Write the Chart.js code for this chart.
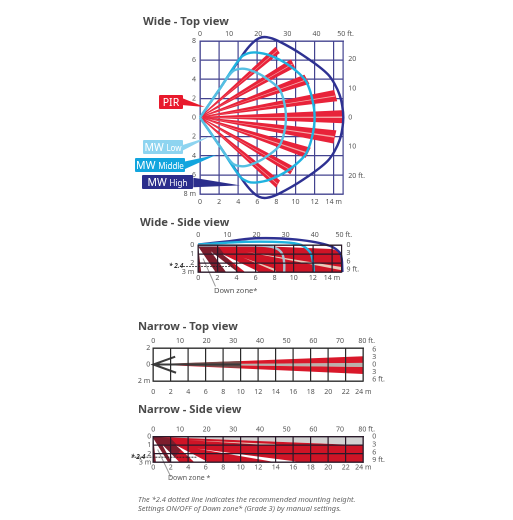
<!DOCTYPE html>
<html>
<head>
<meta charset="utf-8">
<script src="https://cdn.jsdelivr.net/npm/chart.js@4"></script>
<style>
html,body{margin:0;padding:0;background:#fff;width:513px;height:520px;overflow:hidden}
canvas{position:absolute;left:0;top:0}
.t{position:absolute;font-family:"Noto Sans",sans-serif;white-space:nowrap;color:#444;z-index:5}
.h{font-size:11.2px;font-weight:700;color:#4a4a4a}
.s{font-size:7px;color:#555}
.b{font-size:6.5px;font-weight:700;font-style:italic;color:#333}
.n{font-size:7.45px;font-style:italic;color:#666}
.l{color:#fff;font-size:10.5px;line-height:14px;height:14px;text-align:center;border-radius:1px}
.l small{font-size:8px}
</style>
</head>
<body>
<canvas id="wideTop" width="513" height="520"></canvas>
<canvas id="wideSide" width="513" height="520"></canvas>
<canvas id="narrowTop" width="513" height="520"></canvas>
<canvas id="narrowSide" width="513" height="520"></canvas>

<div class="t h" style="left:143px;top:13px">Wide - Top view</div>
<div class="t h" style="left:140px;top:214px">Wide - Side view</div>
<div class="t h" style="left:138px;top:318px">Narrow - Top view</div>
<div class="t h" style="left:138px;top:401px">Narrow - Side view</div>

<div class="t l" style="left:159px;top:95px;width:24px;background:#e8192c">PIR</div>
<div class="t l" style="left:143px;top:140px;width:40px;background:#8ed4f0">MW <small>Low</small></div>
<div class="t l" style="left:135px;top:158px;width:50px;background:#12a5de">MW <small>Middle</small></div>
<div class="t l" style="left:142px;top:175px;width:51px;background:#2b2e8c">MW <small>High</small></div>

<div class="t b" style="left:169px;top:261px">* 2.4</div>
<div class="t s" style="left:214px;top:285px;font-size:7.5px">Down zone*</div>
<div class="t b" style="left:131px;top:452px">* 2.4</div>
<div class="t s" style="left:168px;top:473px;font-size:7px">Down zone *</div>
<div class="t n" style="left:138px;top:494px">The *2.4 dotted line indicates the recommended mounting height.</div>
<div class="t n" style="left:138px;top:503px">Settings ON/OFF of Down zone* (Grade 3) by manual settings.</div>

<script>
// axis ticks
const wideMeters=[0,2,4,6,8,10,12,14];
const wideFeet=[0,10,20,30,40,50];
const topMeters=[-8,-6,-4,-2,0,2,4,6,8];
const topFeet=[-20,-10,0,10,20];
const sideMeters=[0,1,2,3];
const sideFeet=[0,3,6,9];
const narrowMeters=[0,2,4,6,8,10,12,14,16,18,20,22,24];
const narrowFeet=[0,10,20,30,40,50,60,70,80];
const narrowTopMeters=[-2,0,2];
const narrowTopFeet=[-6,-3,0,3,6];

// wide top: PIR beams, outer corners of each wedge (the apex is the origin)
const beamAX=[7.9,9.5,10.9,14,15,14.2,11.5,9.8,8.3];
const beamAY=[7.3,6,4.4,2.8,0.7,-1.4,-3.2,-5.2,-6.6];
const beamBX=[8.3,9.9,11.4,14.3,15,13.9,11,9.4,7.9];
const beamBY=[6.7,5.2,3.5,1.7,-0.6,-2.7,-4.2,-5.9,-7.3];
// pale slit down the middle of each beam
const slitAX=[8.1,9.7,11.15,14.15,15,14.05,11.25,9.6,8.1];
const slitAY=[7.05,5.65,4,2.3,0.1,-1.95,-3.65,-5.5,-6.9];
const slitBX=[8.1,9.7,11.15,14.15,15,14.05,11.25,9.6,8.1];
const slitBY=[6.95,5.55,3.9,2.2,-0.05,-2.1,-3.8,-5.6,-7];

// wide top: microwave outlines
const highX=[0,2,4.5,5.4,6.2,7,8.2,10.8,13.4,14.6,15,14.6,13.4,10.8,8.2,7,6.2,5.4,4.5,2,0];
const highY=[0,2.9,6.6,7.7,8.3,8.4,8,6.5,4.5,2.4,0,-2.4,-4.5,-6.5,-8,-8.4,-8.3,-7.7,-6.6,-2.9,0];
const middleX=[0,2,4.2,5,5.8,7.3,9.4,11.2,12,11.2,9.4,7.3,5.8,5,4.2,2,0];
const middleY=[0,2.9,6.2,6.7,6.8,6.5,5.4,3.6,0,-3.6,-5.4,-6.5,-6.8,-6.7,-6.2,-2.9,0];
const lowX=[0,2,3.4,4.4,5.4,6.8,8.4,9,8.4,6.8,5.4,4.4,3.4,2,0];
const lowY=[0,2.9,4.8,5.1,4.9,4.2,2.8,0,-2.8,-4.2,-4.9,-5.1,-4.8,-2.9,0];

// wide side
const sideRedX=[0,6,14,15,15,0];
const sideRedY=[0,0.1,0.45,0.8,3,3];
const sideDarkX=[0,2.2,4.2,2.6,0];
const sideDarkY=[0,0.3,3,3,3];
const sideHighX=[0,3,6,10.3,13.8,14.9,15.1];
const sideHighY=[-0.05,-0.4,-0.75,-0.6,0.1,1,3];
const sideMiddleX=[0,5,9,10.8,11.7,12,12.1];
const sideMiddleY=[-0.05,-0.35,-0.3,0,0.8,1.8,3];
const sideLowX=[0,4,7,8.2,8.8,9,9];
const sideLowY=[0.05,0.05,0.1,0.4,1,2,3];
const sideGapA=[[0,0.2],[1.8,3],[0.3,3]];
const sideGapB=[[1.3,0.7],[4.1,3],[2.9,3]];
const sideGapC=[[2.5,1],[6.4,3],[4.9,3]];
const sideGapD=[[4.7,1.4],[8.2,3],[7.9,2.6]];
const sideGapE=[[5,0.75],[15,2.8],[15,2.45]];

// narrow top
const nUpperX=[0,24,24];
const nUpperY=[0,1,0.2];
const nLowerX=[0,24,24];
const nLowerY=[0,-1.15,-0.3];
const nCoreX=[0,24,24];
const nCoreY=[0,0.2,-0.3];
const nDarkX=[0,10,10];
const nDarkY=[0.04,0.42,-0.42];
const nArrowX=[2.5,0,2.6];
const nArrowY=[0.95,0,-1];

// narrow side
const nsPaleX=[0,24,24];
const nsPaleY=[0,0,1];
const nsRedX=[0,24,24,0];
const nsRedY=[0,1,3,3];
const nsDarkX=[0,2,3.2,2,0];
const nsDarkY=[0,0.2,1.5,3,3];
const nsGapA=[[0,0.2],[1.7,3],[0.3,3]];
const nsGapB=[[1,0.9],[3,3],[2.1,3]];
const nsGapC=[[2.6,1],[6.3,3],[4.7,3]];
const nsGapD=[[5,1.4],[17,3],[14,3]];
const nsGapE=[[4,0.4],[14,1.05],[14,0.85]];

const M2FT=3.2808;
const tickColor='#555';
const SIDE_W=30, TOP_H=14;

function pts(xs,ys){return xs.map((x,i)=>({x:x,y:ys[i]}));}
function pairs(list){return list.map(p=>({x:p[0],y:p[1]}));}
function poly(data,color,edge){return {data:data,backgroundColor:color,borderColor:color,borderWidth:edge||0,fill:'shape',clip:false,showLine:true};}
function line(data,color,width,tension,dash){return {data:data,borderColor:color,borderWidth:width,tension:tension||0,borderDash:dash||[],fill:false,clip:false,showLine:true};}

// the filler clips to the chart area, so the callout tails are drawn here
const tailPlugin={id:'tails',afterDatasetsDraw(chart){
    const tails=chart.options.plugins.tails.list||[];
    const ctx=chart.ctx;
    tails.forEach(t=>{
        ctx.fillStyle=t.color;
        ctx.beginPath();
        t.data.forEach(p=>ctx.lineTo(chart.scales.x.getPixelForValue(p[0]),chart.scales.y.getPixelForValue(p[1])));
        ctx.closePath();
        ctx.fill();
    });
}};

function axis(cfg){
    return Object.assign({
        type:'linear',
        grid:{display:false,drawTicks:false},
        border:{display:false},
        afterBuildTicks(s){s.ticks=cfg.vals.map(v=>({value:v}));},
        afterFit(s){if(s.isHorizontal())s.height=TOP_H;else s.width=SIDE_W;}
    },cfg.extra,{
        min:cfg.min,max:cfg.max,position:cfg.pos,axis:cfg.ax,reverse:cfg.reverse||false,
        ticks:{autoSkip:false,maxRotation:0,padding:cfg.pad,color:tickColor,font:{size:7,family:'"Noto Sans",sans-serif'},callback:cfg.label}
    });
}

function makeChart(id,a){
    const z=a.gridOnTop?1:0;
    const w=a.gridWidth||1;
    const xGrid={display:true,drawTicks:false,color:a.gridColor,lineWidth:w,z:z};
    const yGrid={display:true,drawTicks:false,lineWidth:w,z:z,color:c=>(a.hideZero&&c.tick&&c.tick.value===0)?'rgba(0,0,0,0)':a.gridColor};
    const border={display:true,color:a.gridColor,width:w,z:z};
    return new Chart(document.getElementById(id),{
        type:'scatter',
        data:{datasets:a.datasets.slice().reverse()},
        plugins:[tailPlugin],
        options:{
            responsive:false,animation:false,devicePixelRatio:2,
            layout:{autoPadding:false,padding:{left:a.left-SIDE_W,top:a.top-TOP_H,right:513-a.right-SIDE_W,bottom:520-a.bottom-TOP_H}},
            elements:{point:{radius:0}},
            plugins:{legend:{display:false},tooltip:{enabled:false},tails:{list:a.tails||[]}},
            scales:{
                x:axis({ax:'x',pos:'bottom',min:0,max:a.xMax,vals:a.xTicks,pad:a.pads[0],label:v=>v===a.xTicks[a.xTicks.length-1]?v+' m':''+v,extra:{grid:xGrid,border:border}}),
                xFt:axis({ax:'x',pos:'top',min:0,max:a.xMax*M2FT,vals:a.xFtTicks,pad:a.pads[1],label:v=>v===a.xFtTicks[a.xFtTicks.length-1]?v+' ft.':''+v,extra:{border:border}}),
                y:axis({ax:'y',pos:'left',min:a.yMin,max:a.yMax,reverse:a.reverse,vals:a.yTicks,pad:a.pads[2],label:a.yLabel,extra:{grid:yGrid,border:border}}),
                yFt:axis({ax:'y',pos:'right',min:a.yMin*M2FT,max:a.yMax*M2FT,reverse:a.reverse,vals:a.yFtTicks,pad:a.pads[3],label:a.yFtLabel,extra:{border:border}})
            }
        }
    });
}

// PIR wedges and their slits in the wide top view
const beams=[];
beamAX.forEach((x,i)=>beams.push(poly([{x:0,y:0},{x:x,y:beamAY[i]},{x:beamBX[i],y:beamBY[i]}],'#e8233a',1.2)));
slitAX.forEach((x,i)=>beams.push(poly([{x:0,y:0},{x:x,y:slitAY[i]},{x:slitBX[i],y:slitBY[i]}],'#f7a9a9')));

makeChart('wideTop',{
    left:200,right:343.3,top:41,bottom:194,xMax:15,yMin:-8,yMax:8,gridWidth:1.2,pads:[4,3,4,5],
    xTicks:wideMeters,xFtTicks:wideFeet,yTicks:topMeters,yFtTicks:topFeet,
    gridColor:'#43438f',
    yLabel:v=>v===-8?'8 m':''+Math.abs(v),
    yFtLabel:v=>v===-20?'20 ft.':''+Math.abs(v),
    datasets:beams.concat([
        line(pts(highX,highY),'#2e3192',2.4,0.3),
        line(pts(middleX,middleY),'#1fb2df',2.4,0.3),
        line(pts(lowX,lowY),'#56bfe2',2.4,0.3)
    ]),
    tails:[
        {color:'#e8192c',data:[[-1.8,2.0],[-1.8,1.3],[0.5,1.1]]},
        {color:'#8ed4f0',data:[[-1.9,-2.9],[-1.9,-3.5],[1,-2]]},
        {color:'#12a5de',data:[[-1.6,-4.6],[-1.6,-5.4],[1.75,-3.9]]},
        {color:'#2b2e8c',data:[[-0.7,-6.3],[-0.7,-7.3],[4.2,-7.1]]}
    ]
});

makeChart('wideSide',{
    left:198.3,right:341.5,top:245,bottom:272,xMax:15,yMin:0,yMax:3,reverse:true,gridOnTop:true,gridWidth:1.2,pads:[2,6,4,5],
    xTicks:wideMeters,xFtTicks:wideFeet,yTicks:sideMeters,yFtTicks:sideFeet,
    gridColor:'#2a1a2a',
    yLabel:v=>v===3?'3 m':''+v,
    yFtLabel:v=>v===9?'9 ft.':''+v,
    datasets:[
        poly(pts(sideRedX,sideRedY),'#cf1426'),
        poly(pts(sideDarkX,sideDarkY),'#7d1d2c'),
        poly(pairs(sideGapA),'#ffffff'),
        poly(pairs(sideGapB),'#ffffff'),
        poly(pairs(sideGapC),'#ffffff'),
        poly(pairs(sideGapD),'#e9c9b9'),
        poly(pairs(sideGapE),'#e9c9b9'),
        line(pts(sideHighX,sideHighY),'#2e3192',2.4,0.3),
        line(pts(sideMiddleX,sideMiddleY),'#1fb2df',2.4,0.3),
        line(pts(sideLowX,sideLowY),'#a7c2d0',2.4,0.3),
        line([{x:-1.6,y:2.4},{x:3.5,y:2.4}],'#222',0.8,0,[2,1]),
        line([{x:0.5,y:1.5},{x:1.8,y:4.6}],'#999',1)
    ]
});

makeChart('narrowTop',{
    left:153.3,right:363.3,top:348,bottom:381,xMax:24,yMin:-2,yMax:2,gridOnTop:true,gridWidth:1.2,hideZero:true,pads:[7,3,3,9],
    xTicks:narrowMeters,xFtTicks:narrowFeet,yTicks:narrowTopMeters,yFtTicks:narrowTopFeet,
    gridColor:'#2b2b2b',
    yLabel:v=>v===-2?'2 m':''+Math.abs(v),
    yFtLabel:v=>v===-6?'6 ft.':''+Math.abs(v),
    datasets:[
        poly(pts(nCoreX,nCoreY),'#b9b2ad'),
        poly(pts(nUpperX,nUpperY),'#d9182a'),
        poly(pts(nLowerX,nLowerY),'#d9182a'),
        poly(pts(nDarkX,nDarkY),'#7b4c4a'),
        line([{x:0,y:0},{x:10,y:0}],'#3a3a3a',2),
        line(pts(nArrowX,nArrowY),'#3d3d3d',2)
    ]
});

makeChart('narrowSide',{
    left:153.3,right:363.3,top:436.7,bottom:462.3,xMax:24,yMin:0,yMax:3,reverse:true,gridOnTop:true,gridWidth:1.2,pads:[1,3,2,9],
    xTicks:narrowMeters,xFtTicks:narrowFeet,yTicks:sideMeters,yFtTicks:sideFeet,
    gridColor:'#2a1a2a',
    yLabel:v=>v===3?'3 m':''+v,
    yFtLabel:v=>v===9?'9 ft.':''+v,
    datasets:[
        poly(pts(nsPaleX,nsPaleY),'#d2d2d2'),
        poly(pts(nsRedX,nsRedY),'#cf1426'),
        poly(pts(nsDarkX,nsDarkY),'#7d1d2c'),
        poly(pairs(nsGapA),'#ffffff'),
        poly(pairs(nsGapB),'#ffffff'),
        poly(pairs(nsGapC),'#ffffff'),
        poly(pairs(nsGapD),'#ffffff'),
        poly(pairs(nsGapE),'#e9c9b9'),
        line([{x:-2.5,y:2.4},{x:5,y:2.4}],'#222',0.8,0,[2,1]),
        line([{x:0.5,y:1.5},{x:2,y:4.7}],'#999',1)
    ]
});
</script>
</body>
</html>
